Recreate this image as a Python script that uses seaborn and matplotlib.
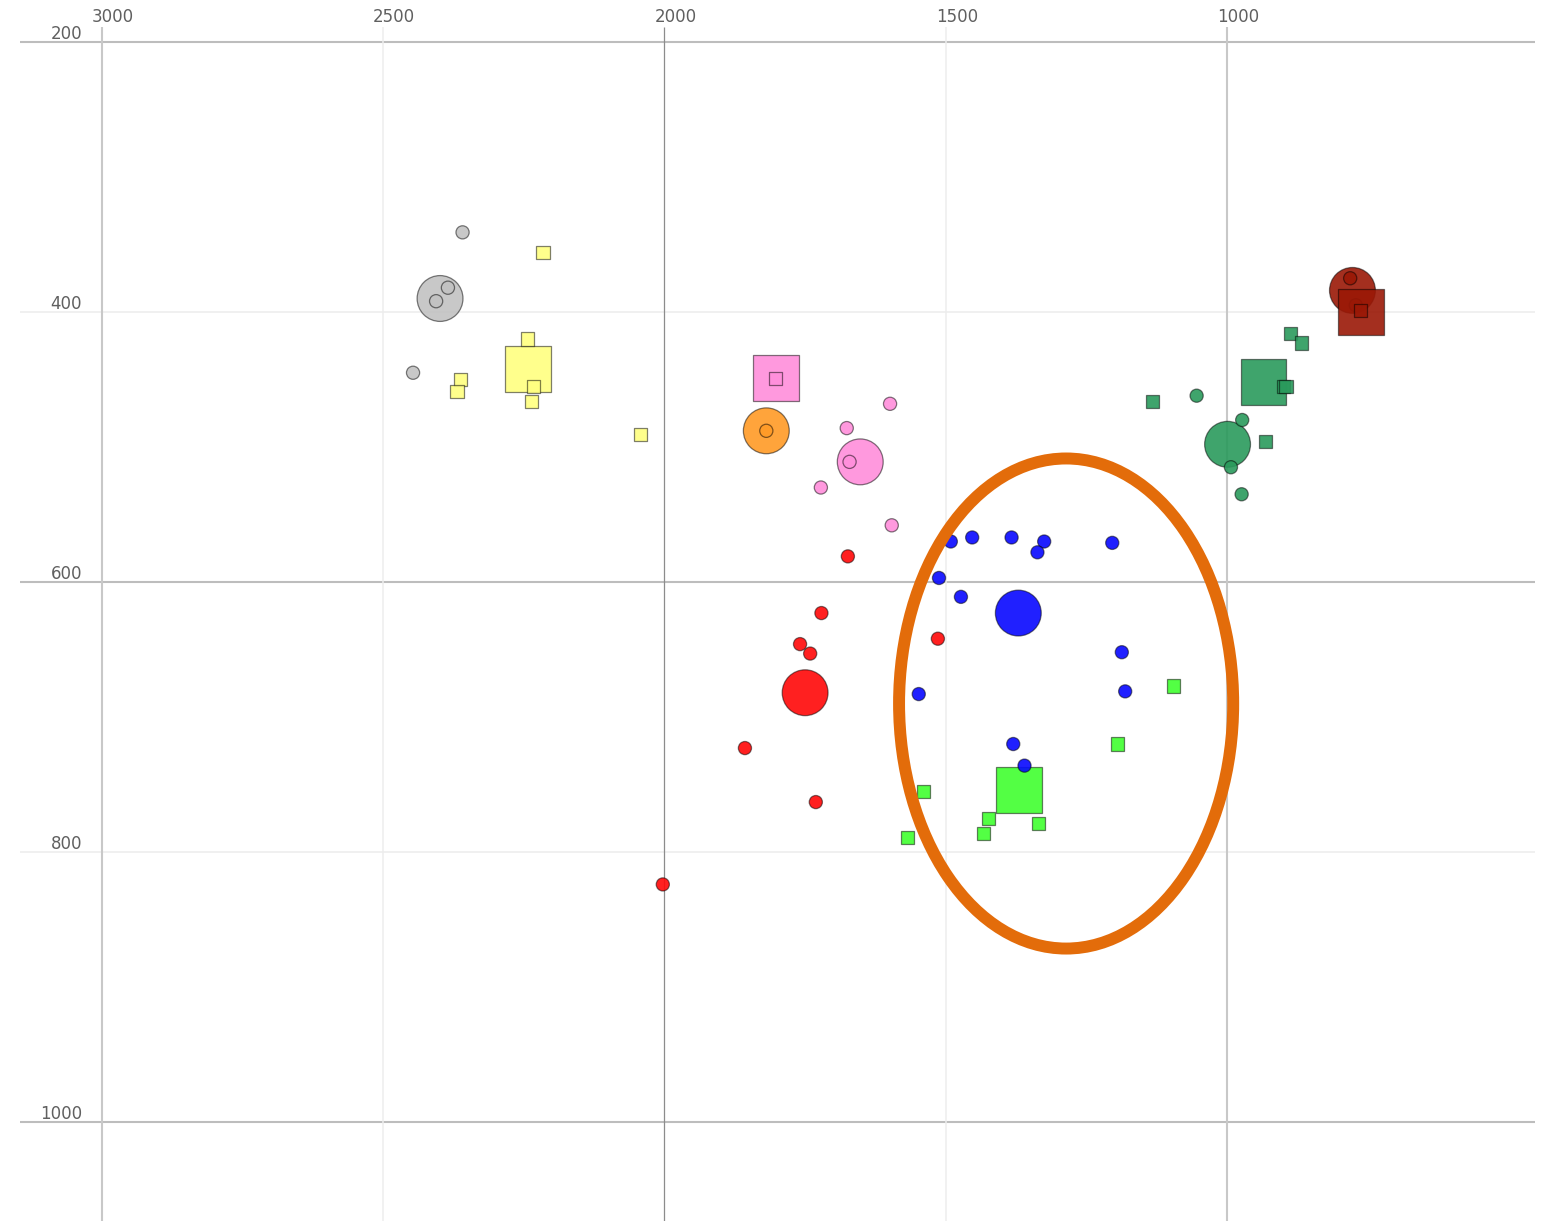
import numpy as np
import pandas as pd
import seaborn as sns
import matplotlib.pyplot as plt
from matplotlib.patches import Ellipse

# formant-like scatter, x and y axes reversed
# each series: (colour group, marker shape, x list, y list); first point is the big one

gray_circ_x = [2399, 2359, 2385, 2406, 2447]
gray_circ_y = [390, 341, 382, 392, 445]

yellow_sq_x = [2243, 2216, 2243, 2233, 2236, 2363, 2369, 2043]
yellow_sq_y = [442, 356, 420, 455, 466, 450, 459, 491]

pink_sq_x = [1802, 1802]
pink_sq_y = [449, 449]

orange_circ_x = [1819, 1819]
orange_circ_y = [488, 488]

pink_circ_x = [1652, 1671, 1599, 1676, 1722, 1596]
pink_circ_y = [511, 511, 468, 486, 530, 558]

red_circ_x = [1750, 1674, 1721, 1759, 1741, 1857, 1731, 1514, 2003]
red_circ_y = [682, 581, 623, 646, 653, 723, 763, 642, 824]

green_sq_x = [1370, 1095, 1194, 1424, 1433, 1335, 1539, 1568]
green_sq_y = [754, 677, 720, 775, 786, 779, 755, 789]

blue_circ_x = [1371, 1491, 1453, 1383, 1325, 1337, 1204, 1512, 1473, 1187, 1181, 1548, 1380, 1360]
blue_circ_y = [623, 570, 567, 567, 570, 578, 571, 597, 611, 652, 681, 683, 720, 736]

sea_sq_x = [935, 887, 868, 900, 895, 1133, 932]
sea_sq_y = [452, 416, 423, 455, 455, 466, 496]

sea_circ_x = [999, 1054, 973, 993, 974]
sea_circ_y = [498, 462, 480, 515, 535]

dred_circ_x = [777, 781, 771]
dred_circ_y = [384, 375, 395]

dred_sq_x = [762, 762]
dred_sq_y = [400, 399]

x_ticks = [3000, 2500, 2000, 1500, 1000]
y_ticks = [200, 400, 600, 800, 1000]

palette = {
    "gray": "#c2c2c2",
    "yellow": "#ffff80",
    "pink": "#ff8edb",
    "orange": "#ff9a26",
    "red": "#ff0808",
    "green": "#40ff30",
    "blue": "#0808ff",
    "seagreen": "#2a9a5c",
    "darkred": "#9a1806",
}

series = [
    ("gray", "circle", gray_circ_x, gray_circ_y),
    ("yellow", "square", yellow_sq_x, yellow_sq_y),
    ("pink", "square", pink_sq_x, pink_sq_y),
    ("orange", "circle", orange_circ_x, orange_circ_y),
    ("pink", "circle", pink_circ_x, pink_circ_y),
    ("red", "circle", red_circ_x, red_circ_y),
    ("green", "square", green_sq_x, green_sq_y),
    ("blue", "circle", blue_circ_x, blue_circ_y),
    ("seagreen", "square", sea_sq_x, sea_sq_y),
    ("seagreen", "circle", sea_circ_x, sea_circ_y),
    ("darkred", "circle", dred_circ_x, dred_circ_y),
    ("darkred", "square", dred_sq_x, dred_sq_y),
]

rows = []
for grp, shape, xs, ys in series:
    for i, (x, y) in enumerate(zip(xs, ys)):
        rows.append({"x": x, "y": y, "group": grp, "shape": shape,
                     "kind": "large" if i == 0 else "small"})
df = pd.DataFrame(rows)

sns.set_style("white")
plt.rcParams['font.family'] = ['DejaVu Sans']

fig = plt.figure(figsize=(15.68, 12.21), dpi=100)
ax = fig.add_axes([0, 0, 1, 1])
ax.set_xlim(3181.3, 393.8)
ax.set_ylim(1073.3, 168.9)
ax.set_axis_off()

# grid lines (drawn by hand so they can stop short of the labels)
for v in y_ticks:
    col, lw = ("#bdbdbd", 1.5) if v in (200, 600, 1000) else ("#ececec", 1.1)
    ax.hlines(v, 3145.8, 452.4, color=col, lw=lw, zorder=0)
for v in x_ticks:
    if v == 2000:
        col, lw = "#8c8c8c", 0.9
    elif v in (3000, 1000):
        col, lw = "#c8c8c8", 1.5
    else:
        col, lw = "#ededed", 1.1
    ax.vlines(v, 188.9, 1073.3, color=col, lw=lw, zorder=0)

# tick labels inside the figure
for v in x_ticks:
    ax.annotate(str(v), xy=(v, 1), xycoords=("data", "axes fraction"),
                xytext=(-7.2, -12.2), textcoords="offset points",
                ha="left", va="center", fontsize=12, color="#606060")
for v in y_ticks:
    ax.annotate(str(v), xy=(0, v), xycoords=("axes fraction", "data"),
                xytext=(59, 5.8), textcoords="offset points",
                ha="right", va="center", fontsize=12, color="#606060")

sns.scatterplot(data=df, x="x", y="y", hue="group", style="shape", size="kind",
                palette=palette, markers={"circle": "o", "square": "s"},
                sizes={"large": 1090, "small": 90}, edgecolor=(0, 0, 0, 0.5),
                linewidth=0.9, legend=False, ax=ax, zorder=3)

# semi transparent fills, keep edges as they are
coll = ax.collections[-1]
fc = coll.get_facecolors()
fc[:, 3] = 0.9
coll.set_facecolors(fc)

ax.set_xlim(3181.3, 393.8)
ax.set_ylim(1073.3, 168.9)

# orange highlight ring
ax.add_patch(Ellipse((1286, 690), width=594, height=363, fill=False,
                     edgecolor="#e36c0a", lw=8.6, zorder=5))

fig.savefig("out.png", dpi=100)
